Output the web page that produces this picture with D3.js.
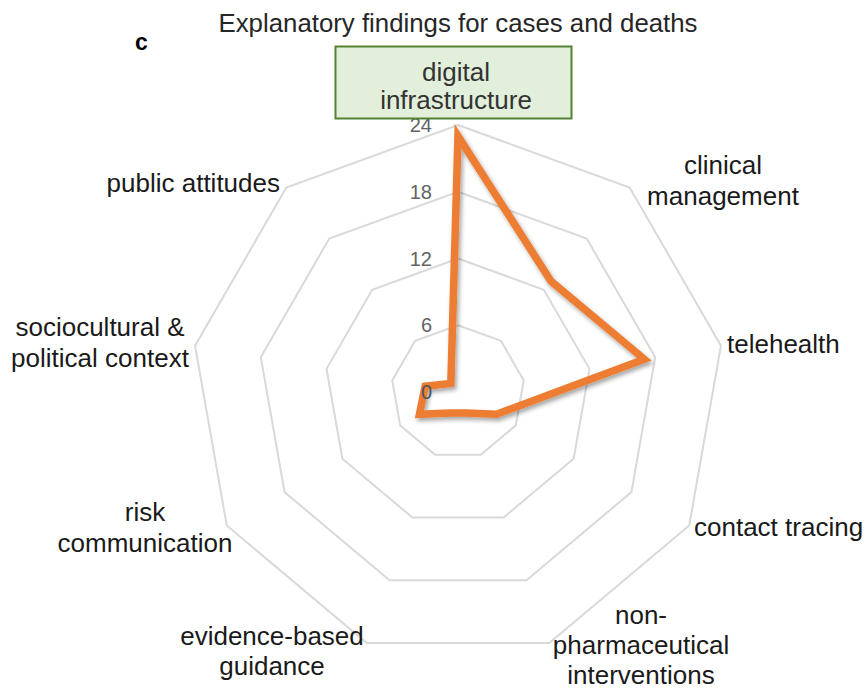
<!DOCTYPE html>
<html>
<head>
<meta charset="utf-8">
<script src="https://cdn.jsdelivr.net/npm/d3@7"></script>
<style>
  html, body { margin: 0; padding: 0; background: #fff; }
  svg { display: block; font-family: "Liberation Sans", Arial, sans-serif; }
</style>
</head>
<body>
<svg id="chart" width="865" height="691"></svg>
<script>
// ---- data ----
const categories = [
  "digital infrastructure",
  "clinical management",
  "telehealth",
  "contact tracing",
  "non-pharmaceutical interventions",
  "evidence-based guidance",
  "risk communication",
  "sociocultural & political context",
  "public attitudes"
];
const categoryLines = [
  ["digital", "infrastructure"],
  ["clinical", "management"],
  ["telehealth"],
  ["contact tracing"],
  ["non-", "pharmaceutical", "interventions"],
  ["evidence-based", "guidance"],
  ["risk", "communication"],
  ["sociocultural &", "political context"],
  ["public attitudes"]
];
const findings = [23, 13, 17, 4, 2, 2, 4, 3, 1];
const tickValues = [0, 6, 12, 18, 24];
const titleText = "Explanatory findings for cases and deaths";
const panelLetter = "c";

// ---- layout (separate from data) ----
const cx = 458, cy = 392, R = 267;
const labelLayout = [
  null, // drawn in the highlighted box
  {x: 723, y: 174, anchor: "middle", lh: 30.5},
  {x: 727, y: 353, anchor: "start", lh: 30.5},
  {x: 694, y: 536, anchor: "start", lh: 30.5},
  {x: 641, y: 624, anchor: "middle", lh: 30},
  {x: 272, y: 645, anchor: "middle", lh: 30},
  {x: 145, y: 521, anchor: "middle", lh: 31},
  {x: 100, y: 336, anchor: "middle", lh: 31},
  {x: 280, y: 192, anchor: "end", lh: 30}
];
const labelSize = 26;

const svg = d3.select("#chart");
const defs = svg.append("defs");
const f = defs.append("filter").attr("id", "shadow")
  .attr("x", "-20%").attr("y", "-20%").attr("width", "140%").attr("height", "140%");
f.append("feDropShadow").attr("dx", 2).attr("dy", 3).attr("stdDeviation", 2.2)
  .attr("flood-color", "#000").attr("flood-opacity", 0.35);

const r = d3.scaleLinear().domain([0, 24]).range([0, R]);
const angle = d3.scalePoint().domain(d3.range(categories.length))
  .range([0, 2 * Math.PI * (categories.length - 1) / categories.length]);

const g = svg.append("g").attr("transform", `translate(${cx},${cy})`);

// grid rings
const ringLine = d3.lineRadial().angle((d, i) => angle(i)).radius(d => r(d)).curve(d3.curveLinearClosed);
g.selectAll("path.ring").data(tickValues.filter(t => t > 0)).join("path")
  .attr("class", "ring")
  .attr("d", t => ringLine(categories.map(() => t)))
  .attr("fill", "none").attr("stroke", "#d9d9d9").attr("stroke-width", 2);

// data line
const dataLine = d3.lineRadial().angle((d, i) => angle(i)).radius(d => r(d)).curve(d3.curveLinearClosed);
g.append("path")
  .attr("d", dataLine(findings))
  .attr("fill", "none")
  .attr("stroke", "#ed7d31")
  .attr("stroke-width", 7.5)
  .attr("stroke-linejoin", "miter")
  .attr("filter", "url(#shadow)");

// tick labels (on top of the line)
g.selectAll("text.tick").data(tickValues).join("text")
  .attr("class", "tick")
  .attr("x", -26).attr("y", t => -r(t))
  .attr("dy", "0.36em")
  .attr("text-anchor", "end")
  .attr("font-size", 20)
  .attr("fill", t => t === 0 ? "#4a5560" : "#636363")
  .text(t => t);

// title
svg.append("text").attr("x", 458).attr("y", 32).attr("text-anchor", "middle")
  .attr("font-size", 25.8).attr("fill", "#262626").text(titleText);
svg.append("text").attr("x", 135).attr("y", 50).attr("font-size", 23)
  .attr("font-weight", "bold").attr("fill", "#000").text(panelLetter);

// highlighted box for first category
svg.append("rect").attr("x", 335.5).attr("y", 46.5).attr("width", 236).attr("height", 72)
  .attr("fill", "#e2efda").attr("stroke", "#548235").attr("stroke-width", 2);
svg.append("text").attr("text-anchor", "middle")
  .attr("font-size", labelSize).attr("fill", "#333")
  .selectAll("tspan").data(categoryLines[0]).join("tspan")
  .attr("x", 456).attr("y", (d, i) => 81 + i * 28).text(d => d);

// category labels
categoryLines.forEach((lines, i) => {
  const L = labelLayout[i];
  if (!L) return;
  svg.append("text").attr("text-anchor", L.anchor).attr("font-size", labelSize).attr("fill", "#1a1a1a")
    .selectAll("tspan").data(lines).join("tspan")
    .attr("x", L.x).attr("y", (d, j) => L.y + j * L.lh).text(d => d);
});
</script>
</body>
</html>
